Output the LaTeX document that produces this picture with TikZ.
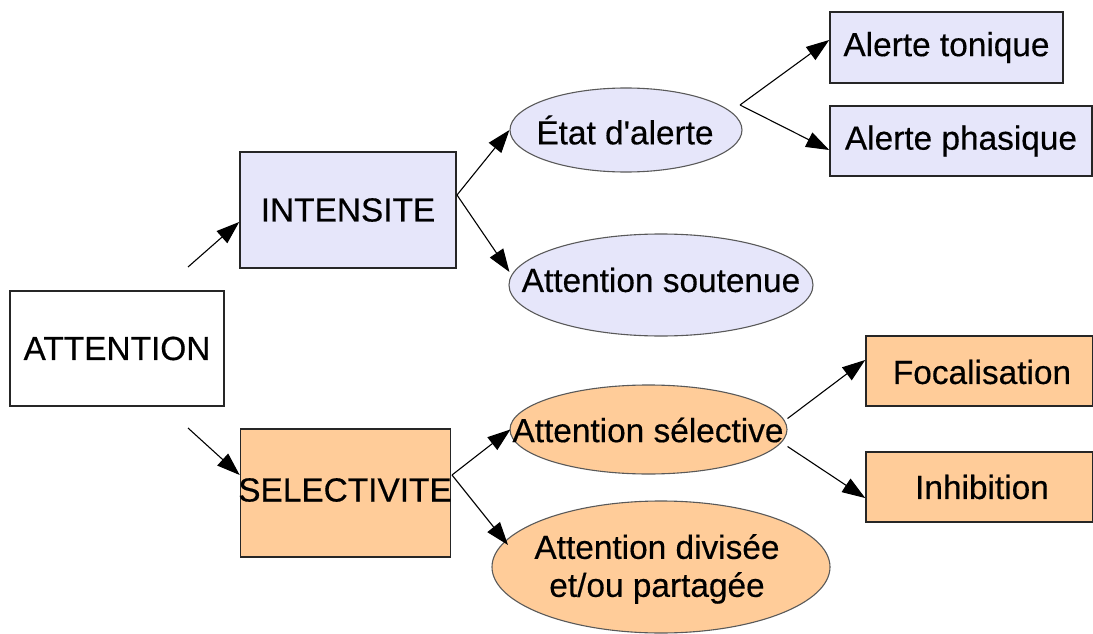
\documentclass[tikz,border=0pt]{standalone}
\usepackage{fontspec}
\setmainfont{Liberation Sans}
\newfontfamily\dfont{Liberation Sans}[FakeBold=0.4]
\usetikzlibrary{arrows.meta,shapes.geometric}
\definecolor{lav}{HTML}{E6E6FA}
\definecolor{peach}{HTML}{FFCC99}
\begin{document}
\begin{tikzpicture}[x=1pt,y=-1pt,
  every node/.style={font=\dfont\fontsize{33.4pt}{38pt}\selectfont, text=black, inner sep=0pt},
  boxnode/.style={draw=black!85, line width=1.6pt, rectangle},
  ellnode/.style={draw=black!65, line width=1.1pt, ellipse},
  conn/.style={draw=black, line width=1.1pt, -{Triangle[length=23pt,width=16pt]}},
  seg/.style={draw=black, line width=1.1pt}]
\useasboundingbox (0,0) rectangle (1093,634);
\clip (0,0) rectangle (1093,634);
% boxes
\node[boxnode, fill=white, minimum width=214pt, minimum height=115pt] (att) at (117,348.5) {ATTENTION};
\node[boxnode, fill=lav, minimum width=216pt, minimum height=116pt] (int) at (348,210) {INTENSITE};
\node[boxnode, fill=peach, minimum width=210pt, minimum height=128pt] (sel) at (345.5,493) {};
\node (seltxt) at (345,490) {SELECTIVITE};
\node[boxnode, fill=lav, minimum width=233pt, minimum height=71pt] (ton) at (946.5,47.5) {Alerte tonique};
\node[boxnode, fill=lav, minimum width=262pt, minimum height=70pt] (pha) at (961,141) {Alerte phasique};
\node[boxnode, fill=peach, minimum width=227pt, minimum height=70pt] (foc) at (979.5,371) {};
\node (foctxt) at (982,372) {Focalisation};
\node[boxnode, fill=peach, minimum width=227pt, minimum height=70pt] (inh) at (979.5,487) {};
\node (inhtxt) at (982,487) {Inhibition};
% ellipses
\node[ellnode, fill=lav, minimum width=232pt, minimum height=84pt] (eta) at (626,130) {};
\node (etatxt) at (625,130) {État d\textquotesingle alerte};
\node[ellnode, fill=lav, minimum width=304pt, minimum height=102pt] (sou) at (661,285) {};
\node (soutxt) at (661,280) {Attention soutenue};
\node[ellnode, fill=peach, minimum width=277pt, minimum height=89pt] (asel) at (648.5,429.5) {};
\node (aseltxt) at (648,430) {Attention sélective};
\node[ellnode, fill=peach, minimum width=338pt, minimum height=132pt] (div) at (661,567) {};
\node[align=center] (divtxt) at (657,569) {Attention divisée\\et/ou partagée};
% free ends
\coordinate (f1) at (188,267);
\coordinate (f2) at (188,428);
\coordinate (split) at (740,105);
\coordinate (ia) at (457,195);
\coordinate (sa) at (452,475);
% connectors
\draw[conn] (f1) -- ([yshift=-12pt]int.west);
\draw[conn] (f2) -- ([yshift=18pt]sel.west);
\draw[conn] (ia) -- (eta.west);
\draw[conn] (ia) -- ([yshift=13pt, xshift=1pt]sou.west);
\draw[conn] (split) -- ([yshift=7.5pt]ton.west);
\draw[conn] (split) -- ([yshift=-9pt]pha.west);
\draw[conn] (sa) -- ([xshift=1pt]asel.west);
\draw[conn] (sa) -- ([shift={(-153pt,22pt)}]div.center);
\draw[conn] ([yshift=11pt]asel.east) -- ([yshift=11pt]foc.west);
\draw[conn] ([yshift=-17pt]asel.east) -- ([yshift=-11pt]inh.west);
\end{tikzpicture}
\end{document}
